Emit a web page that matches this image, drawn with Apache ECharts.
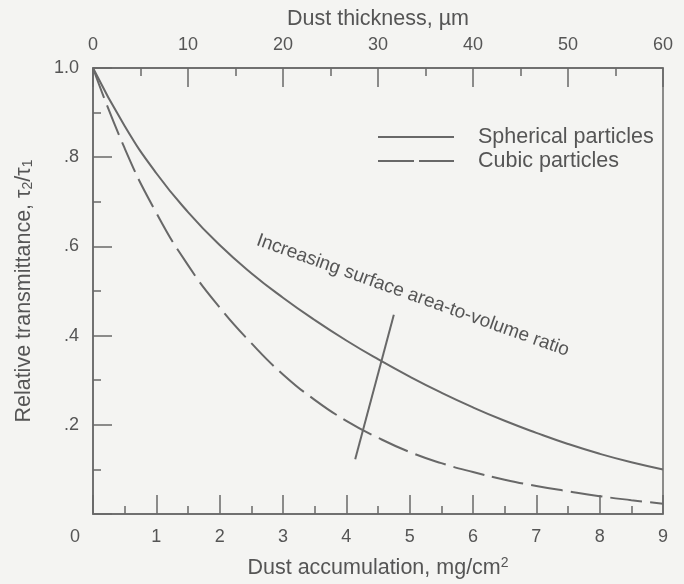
<!DOCTYPE html>
<html>
<head>
<meta charset="utf-8">
<script src="https://cdn.jsdelivr.net/npm/echarts@6/dist/echarts.min.js"></script>
<style>
html,body{margin:0;padding:0;background:#f4f4f2;}
#chart{width:684px;height:584px;}
</style>
</head>
<body>
<div id="chart"></div>
<script>
// Data
const dustAccum = [0, 0.5, 1, 1.5, 2, 2.5, 3, 3.5, 4, 4.5, 5, 5.5, 6, 6.5, 7, 7.5, 8, 8.5, 9];
const spherical = [1.0, 0.87, 0.764, 0.677, 0.603, 0.540, 0.485, 0.435, 0.389, 0.347, 0.308, 0.272, 0.239, 0.209, 0.182, 0.157, 0.135, 0.116, 0.100];
const cubic = [1.0, 0.82, 0.675, 0.558, 0.463, 0.383, 0.313, 0.256, 0.209, 0.171, 0.139, 0.114, 0.094, 0.077, 0.063, 0.051, 0.040, 0.031, 0.023];
const arrowX = [4.14, 4.75];
const arrowY = [0.123, 0.447];
const annotation = { x: 5.05, y: 0.49, text: 'Increasing surface area-to-volume ratio' };
const seriesNames = ['Spherical particles', 'Cubic particles'];
const bottomTicks = { min: 0, max: 9, interval: 1 };
const topTicks = { min: 0, max: 60, interval: 10 };
const yTicks = { min: 0, max: 1, interval: 0.2 };

const FONT = '"Liberation Sans", Arial, Helvetica, sans-serif';
const TXT = '#555555';
const LINE = '#686868';

const chart = echarts.init(document.getElementById('chart'), null, { renderer: 'canvas' });

const axisCommon = {
  axisLine: { show: true, onZero: false, lineStyle: { color: LINE, width: 1.5 } },
  axisTick: { show: true, inside: true, length: 19, lineStyle: { color: LINE, width: 1.5 } },
  minorTick: { show: true, splitNumber: 2, length: 8, lineStyle: { color: LINE, width: 1.5 } },
  splitLine: { show: false },
  axisLabel: { color: TXT, fontSize: 18, fontFamily: FONT, margin: 14 },
  nameTextStyle: { color: TXT, fontSize: 21.5, fontFamily: FONT }
};

function pairs(xs, ys) { return xs.map((x, i) => [x, ys[i]]); }

const solidIcon = 'path://M0,0L76,0L76,2L0,2Z';
const dashIcon = 'path://M0,0L36,0L36,2L0,2ZM41,0L76,0L76,2L41,2Z';

const option = {
  backgroundColor: '#f4f4f2',
  animation: false,
  grid: { left: 93, right: 21, top: 68, bottom: 67, show: true, borderColor: LINE, borderWidth: 1.5, backgroundColor: 'transparent' },
  legend: {
    show: true,
    orient: 'vertical',
    left: 373,
    top: 121,
    itemWidth: 76,
    itemHeight: 2,
    itemGap: 2,
    itemStyle: { color: LINE, borderWidth: 0 },
    textStyle: { color: TXT, fontSize: 21.5, fontFamily: FONT, padding: [0, 0, 0, 19] },
    data: [
      { name: seriesNames[0], icon: solidIcon },
      { name: seriesNames[1], icon: dashIcon }
    ]
  },
  xAxis: [
    Object.assign({}, axisCommon, {
      type: 'value', position: 'bottom',
      min: bottomTicks.min, max: bottomTicks.max, interval: bottomTicks.interval,
      name: '{a|Dust accumulation, mg/cm}{s|2}',
      nameLocation: 'middle', nameGap: 42,
      nameTextStyle: {
        color: TXT, fontSize: 21.5, fontFamily: FONT,
        rich: {
          a: { color: TXT, fontSize: 21.5, fontFamily: FONT },
          s: { color: TXT, fontSize: 14, fontFamily: FONT, verticalAlign: 'top', padding: [0, 0, 10, 0] }
        }
      },
      axisLabel: {
        color: TXT, fontSize: 18, fontFamily: FONT, margin: 14,
        formatter: v => v === 0 ? '{o|0}' : String(v),
        rich: { o: { color: TXT, fontSize: 18, fontFamily: FONT, padding: [0, 36, 0, 0] } }
      }
    }),
    Object.assign({}, axisCommon, {
      type: 'value', position: 'top',
      min: topTicks.min, max: topTicks.max, interval: topTicks.interval,
      name: 'Dust thickness, \u00b5m',
      nameLocation: 'middle', nameGap: 38
    })
  ],
  yAxis: [
    Object.assign({}, axisCommon, {
      type: 'value', position: 'left',
      min: yTicks.min, max: yTicks.max, interval: yTicks.interval,
      name: 'Relative transmittance, \u03c4{s|2}/\u03c4{s|1}',
      nameLocation: 'middle', nameGap: 58,
      nameTextStyle: {
        color: TXT, fontSize: 21.5, fontFamily: FONT,
        rich: { s: { color: TXT, fontSize: 14, fontFamily: FONT, verticalAlign: 'bottom', padding: [8, 0, 0, 0] } }
      },
      axisLabel: {
        color: TXT, fontSize: 18, fontFamily: FONT, margin: 14,
        formatter: v => {
          if (v === 0) return '';
          if (v === 1) return '1.0';
          return String(Math.round(v * 10) / 10).replace(/^0/, '');
        }
      }
    })
  ],
  series: [
    {
      name: seriesNames[0], type: 'line', xAxisIndex: 0, yAxisIndex: 0,
      data: pairs(dustAccum, spherical), smooth: 0.5, symbol: 'none',
      lineStyle: { color: LINE, width: 2, type: 'solid' },
      itemStyle: { color: LINE },
      markPoint: {
        symbol: 'circle', symbolSize: 0, silent: true,
        data: [{ coord: [annotation.x, annotation.y], value: annotation.text }],
        label: {
          show: true, position: 'inside', formatter: annotation.text,
          rotate: -19.7, color: TXT, fontSize: 19, fontFamily: FONT
        }
      }
    },
    {
      name: seriesNames[1], type: 'line', xAxisIndex: 0, yAxisIndex: 0,
      data: pairs(dustAccum, cubic), smooth: 0.5, symbol: 'none',
      lineStyle: { color: LINE, width: 2, type: [32, 8] },
      itemStyle: { color: LINE }
    },
    {
      name: 'indicator', type: 'line', xAxisIndex: 0, yAxisIndex: 0,
      data: pairs(arrowX, arrowY), symbol: 'none',
      lineStyle: { color: LINE, width: 2 }, silent: true
    }
  ]
};
chart.setOption(option);
</script>
</body>
</html>
